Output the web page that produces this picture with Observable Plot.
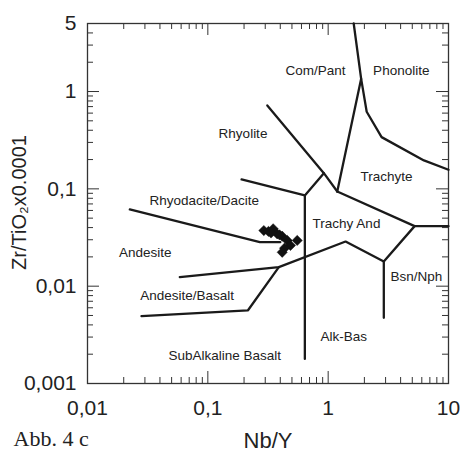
<!DOCTYPE html>
<html>
<head>
<meta charset="utf-8">
<script src="https://cdn.jsdelivr.net/npm/d3@7"></script>
<script src="https://cdn.jsdelivr.net/npm/@observablehq/plot@0.6"></script>
<style>
  html, body { margin: 0; padding: 0; background: #fff; }
  #chart svg { display: block; }
</style>
</head>
<body>
<div id="chart"></div>
<script>
// ---- Field boundaries (Nb/Y, Zr/TiO2*0.0001) ----
const comPantPhonolite = [[1.63, 5], [1.88, 1.35], [2.09, 0.62], [2.78, 0.34], [6.25, 0.196], [10, 0.157]];
const comPantTrachyte = [[1.88, 1.35], [1.19, 0.094]];
const rhyoliteComPant = [[0.312, 0.72], [0.921, 0.145], [1.19, 0.094]];
const trachyAndWest = [[0.921, 0.145], [0.64, 0.0855], [0.64, 0.00179]];
const rhyodaciteRhyolite = [[0.1906, 0.125], [0.64, 0.0855]];
const trachyteTrachyAnd = [[1.19, 0.094], [5.23, 0.0414], [10, 0.0414]];
const andesiteBasaltTop = [[0.0585, 0.01238], [0.389, 0.01568], [1.395, 0.0288], [2.90, 0.01794], [5.23, 0.0414]];
const bsnNphAlkBas = [[2.90, 0.01794], [2.90, 0.00473]];
const andesiteBasaltBottom = [[0.0281, 0.00492], [0.215, 0.00563], [0.389, 0.01568]];
const andesiteRhyodacite = [[0.02246, 0.0614], [0.2706, 0.0283], [0.40, 0.0283]];

// ---- Samples ----
const sampleNbY = [0.292, 0.319, 0.349, 0.377, 0.415, 0.457, 0.553, 0.486, 0.434, 0.415, 0.335, 0.395];
const sampleZrTi = [0.0373, 0.0365, 0.0389, 0.0345, 0.0326, 0.0295, 0.0295, 0.0262, 0.0246, 0.0223, 0.0352, 0.0336];

// ---- Field labels ----
const fieldNames = ["Com/Pant", "Phonolite", "Rhyolite", "Trachyte", "Rhyodacite/Dacite", "Trachy And", "Andesite", "Bsn/Nph", "Andesite/Basalt", "Alk-Bas", "SubAlkaline Basalt"];
const fieldX = [0.785, 4.05, 0.196, 3.05, 0.0935, 1.42, 0.0302, 5.42, 0.0674, 1.349, 0.138];
const fieldY = [1.625, 1.625, 0.373, 0.134, 0.0759, 0.0437, 0.0220, 0.01258, 0.00796, 0.00306, 0.00194];

// ---- Axes ----
const xTicks = [0.01, 0.1, 1, 10];
const xTickLabels = ["0,01", "0,1", "1", "10"];
const yTicks = [0.001, 0.01, 0.1, 1, 5];
const yTickLabels = ["0,001", "0,01", "0,1", "1", "5"];
const minorMultipliers = [2, 3, 4, 5, 6, 7, 8, 9];
const xDecades = [0.01, 0.1, 1];
const yDecades = [0.001, 0.01, 0.1, 1];

const boundaries = [comPantPhonolite, comPantTrachyte, rhyoliteComPant, trachyAndWest, rhyodaciteRhyolite,
  trachyteTrachyAnd, andesiteBasaltTop, bsnNphAlkBas, andesiteBasaltBottom, andesiteRhyodacite];
const lineTable = boundaries.flatMap((pts, id) => pts.map(([x, y]) => ({x, y, id})));
const samples = sampleNbY.map((x, i) => ({x, y: sampleZrTi[i]}));
const fields = fieldNames.map((name, i) => ({name, x: fieldX[i], y: fieldY[i]}));
const xLabelData = xTicks.map((v, i) => ({v, t: xTickLabels[i]}));
const yLabelData = yTicks.map((v, i) => ({v, t: yTickLabels[i]}));

const xMajor = [0.1, 1];
const yMajor = [0.01, 0.1, 1];
const xMinor = xDecades.flatMap(d => minorMultipliers.map(m => d * m)).filter(v => v < 10);
const yMinor = yDecades.flatMap(d => minorMultipliers.map(m => d * m)).filter(v => v < 5);

const W = 463, H = 451, mL = 87, mT = 23, mR = 15, mB = 68;
const innerW = W - mL - mR, innerH = H - mT - mB;
const MAJ = 12, MIN = 6;
const tickStroke = "#333";

const chart = Plot.plot({
  width: W, height: H,
  marginLeft: mL, marginTop: mT, marginRight: mR, marginBottom: mB,
  style: {fontFamily: "'Liberation Sans', Arial, Helvetica, sans-serif", background: "#fff", color: "#222"},
  x: {type: "log", domain: [0.01, 10], axis: null},
  y: {type: "log", domain: [0.001, 5], axis: null},
  marks: [
    // inward ticks: bottom / top
    Plot.tickX(xMajor, {x: d => d, insetTop: innerH - MAJ, stroke: tickStroke, strokeWidth: 1}),
    Plot.tickX(xMajor, {x: d => d, insetBottom: innerH - MAJ, stroke: tickStroke, strokeWidth: 1}),
    Plot.tickX(xMinor, {x: d => d, insetTop: innerH - MIN, stroke: tickStroke, strokeWidth: 1}),
    Plot.tickX(xMinor, {x: d => d, insetBottom: innerH - MIN, stroke: tickStroke, strokeWidth: 1}),
    // inward ticks: left / right
    Plot.tickY(yMajor, {y: d => d, insetRight: innerW - MAJ, stroke: tickStroke, strokeWidth: 1}),
    Plot.tickY(yMajor, {y: d => d, insetLeft: innerW - MAJ, stroke: tickStroke, strokeWidth: 1}),
    Plot.tickY(yMinor, {y: d => d, insetRight: innerW - MIN, stroke: tickStroke, strokeWidth: 1}),
    Plot.tickY(yMinor, {y: d => d, insetLeft: innerW - MIN, stroke: tickStroke, strokeWidth: 1}),
    Plot.frame({stroke: "#333", strokeWidth: 1.3}),
    // tick labels
    Plot.text(xLabelData, {x: "v", text: "t", frameAnchor: "bottom", dy: 17, lineAnchor: "top", fontSize: 21, fill: "#222"}),
    Plot.text(yLabelData, {y: "v", text: "t", frameAnchor: "left", dx: -11, textAnchor: "end", lineAnchor: "middle", fontSize: 21, fill: "#222"}),
    // boundaries
    Plot.line(lineTable, {x: "x", y: "y", z: "id", stroke: "#1a1a1a", strokeWidth: 2.3, strokeLinejoin: "miter", curve: "linear"}),
    // samples
    Plot.dot(samples, {x: "x", y: "y", symbol: "diamond2", r: 4.6, fill: "#111", stroke: "#111", strokeWidth: 0.5}),
    // field labels
    Plot.text(fields, {x: "x", y: "y", text: "name", fontSize: 13.5, fill: "#222"}),
    // axis titles
    Plot.text(["Nb/Y"], {frameAnchor: "bottom", dy: 64, lineAnchor: "bottom", fontSize: 22, fill: "#222"}),
    Plot.text(["Zr/TiO₂x0.0001"], {frameAnchor: "left", dx: -62, dy: -1, rotate: -90, textAnchor: "middle", lineAnchor: "bottom", fontSize: 20, fill: "#222"}),
    // caption
    Plot.text(["Abb. 4 c"], {frameAnchor: "bottom-left", dx: -74, dy: 62, textAnchor: "start", lineAnchor: "bottom", fontSize: 22, fontFamily: "'Liberation Serif', 'Times New Roman', serif", fill: "#222"})
  ]
});
document.getElementById("chart").appendChild(chart);
</script>
</body>
</html>
